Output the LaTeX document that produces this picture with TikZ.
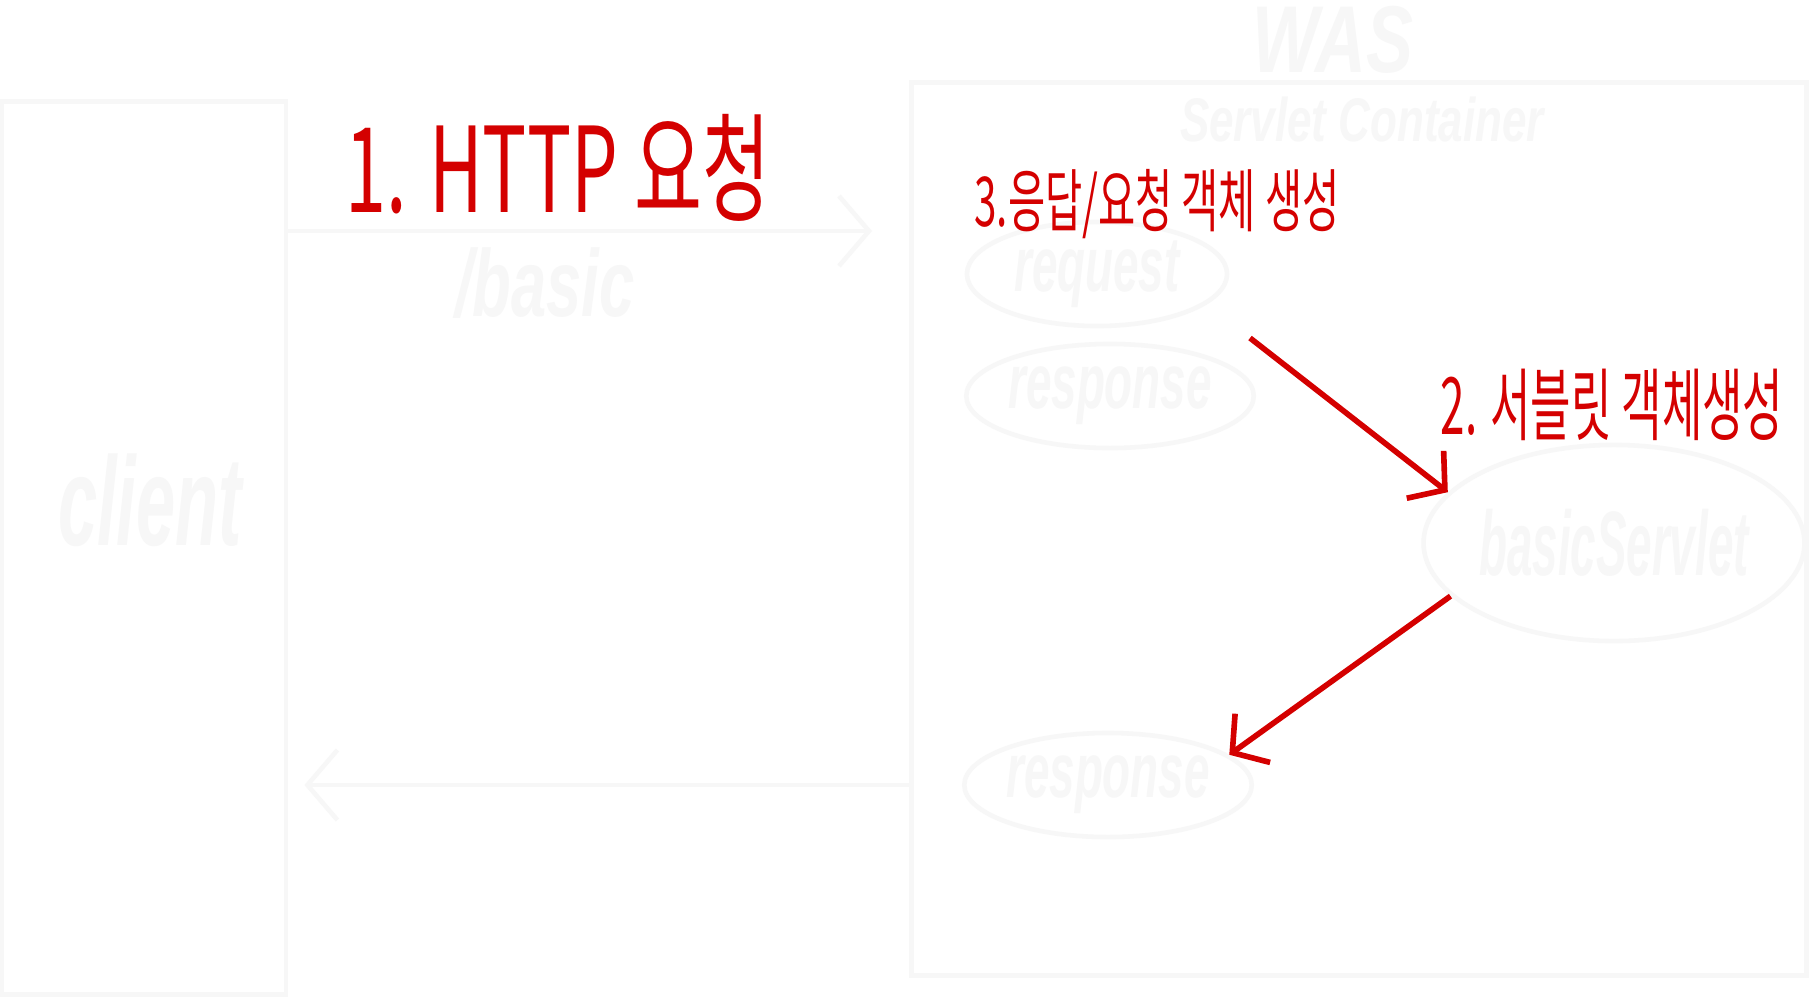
\documentclass[tikz,border=0pt]{standalone}
\usepackage{fontspec}
\usepackage{graphicx}
\setmainfont{Liberation Sans}
\newfontfamily\krfont{Noto Sans CJK KR}
\usepackage{tikz}
\usetikzlibrary{arrows.meta, positioning, shapes.geometric}
\definecolor{fadecolor}{RGB}{247,247,247}
\definecolor{notecolor}{RGB}{212,0,0}
\newcommand{\handtext}[2]{\scalebox{1}[#1]{#2}}

\begin{document}
\begin{tikzpicture}[
    x=0.01cm, y=-0.01cm,
    frame/.style={draw=fadecolor, line width=1.3pt},
    objnode/.style={ellipse, draw=fadecolor, line width=1.3pt, inner sep=0pt, text=fadecolor, font=\bfseries\itshape\fontsize{13}{13}\selectfont},
    lbl/.style={text=fadecolor, inner sep=0pt},
    note/.style={text=notecolor, inner sep=0pt},
    flow/.style={draw=fadecolor, line width=1.3pt, -{Straight Barb[length=3mm, width=7mm]}},
    redflow/.style={draw=notecolor, line width=1.6pt, -{Straight Barb[length=2.5mm, width=6mm]}}
  ]
  \fill[white] (0,0) rectangle (1810,1000);
  \useasboundingbox (0,0) rectangle (1810,1000);

  \node[frame, minimum width=2.84cm, minimum height=8.93cm] (client) at (144,548) {};
  \node[frame, minimum width=8.94cm, minimum height=8.92cm] (was) at (1359,529) {};

  \node[lbl, font=\bfseries\itshape\fontsize{20}{20}\selectfont] (clientlbl) at (150,500) {\handtext{1.8}{client}};
  \node[lbl, font=\bfseries\itshape\fontsize{20}{20}\selectfont] (waslbl) at (1333,40) {\handtext{1.35}{WAS}};
  \node[lbl, font=\bfseries\itshape\fontsize{12.5}{12.5}\selectfont] (containerlbl) at (1362,120) {\handtext{1.4}{Servlet Container}};
  \node[lbl, font=\bfseries\itshape\fontsize{18}{18}\selectfont] (pathlbl) at (545,283) {\handtext{1.5}{/basic}};

  \node[objnode, minimum width=2.6cm, minimum height=1.04cm] (request) at (1097,274) {\handtext{1.7}{request}};
  \node[objnode, minimum width=2.6cm, minimum height=1.04cm] (response) at (1110,396) {\handtext{1.7}{response}};
  \node[objnode, minimum width=3.42cm, minimum height=1.96cm] (servlet) at (1614,543) {\handtext{2}{basicServlet}};
  \node[objnode, minimum width=2.6cm, minimum height=1.04cm] (answer) at (1108,785) {\handtext{1.7}{response}};

  \node[note, font=\krfont\fontsize{21}{21}\selectfont] (httpnote) at (558,168) {\handtext{1.6}{1. HTTP 요청}};
  \node[note, font=\krfont\fontsize{11.5}{11.5}\selectfont] (makenote) at (1157,204) {\handtext{1.7}{3.응답/요청 객체 생성}};
  \node[note, font=\krfont\fontsize{12.5}{12.5}\selectfont] (servletnote) at (1612,405) {\handtext{1.8}{2. 서블릿 객체생성}};

  \coordinate (reqtip) at (872,231);
  \draw[flow] (client.east |- reqtip) -- (reqtip);
  \draw[flow] (was.west |- answer) -- ([xshift=1.6mm]client.east |- answer);

  \coordinate (makestart) at (1250,338);
  \draw[redflow] (makestart) -- (servlet.163);
  \draw[redflow] (servlet.198) -- (answer.14);
\end{tikzpicture}
\end{document}
